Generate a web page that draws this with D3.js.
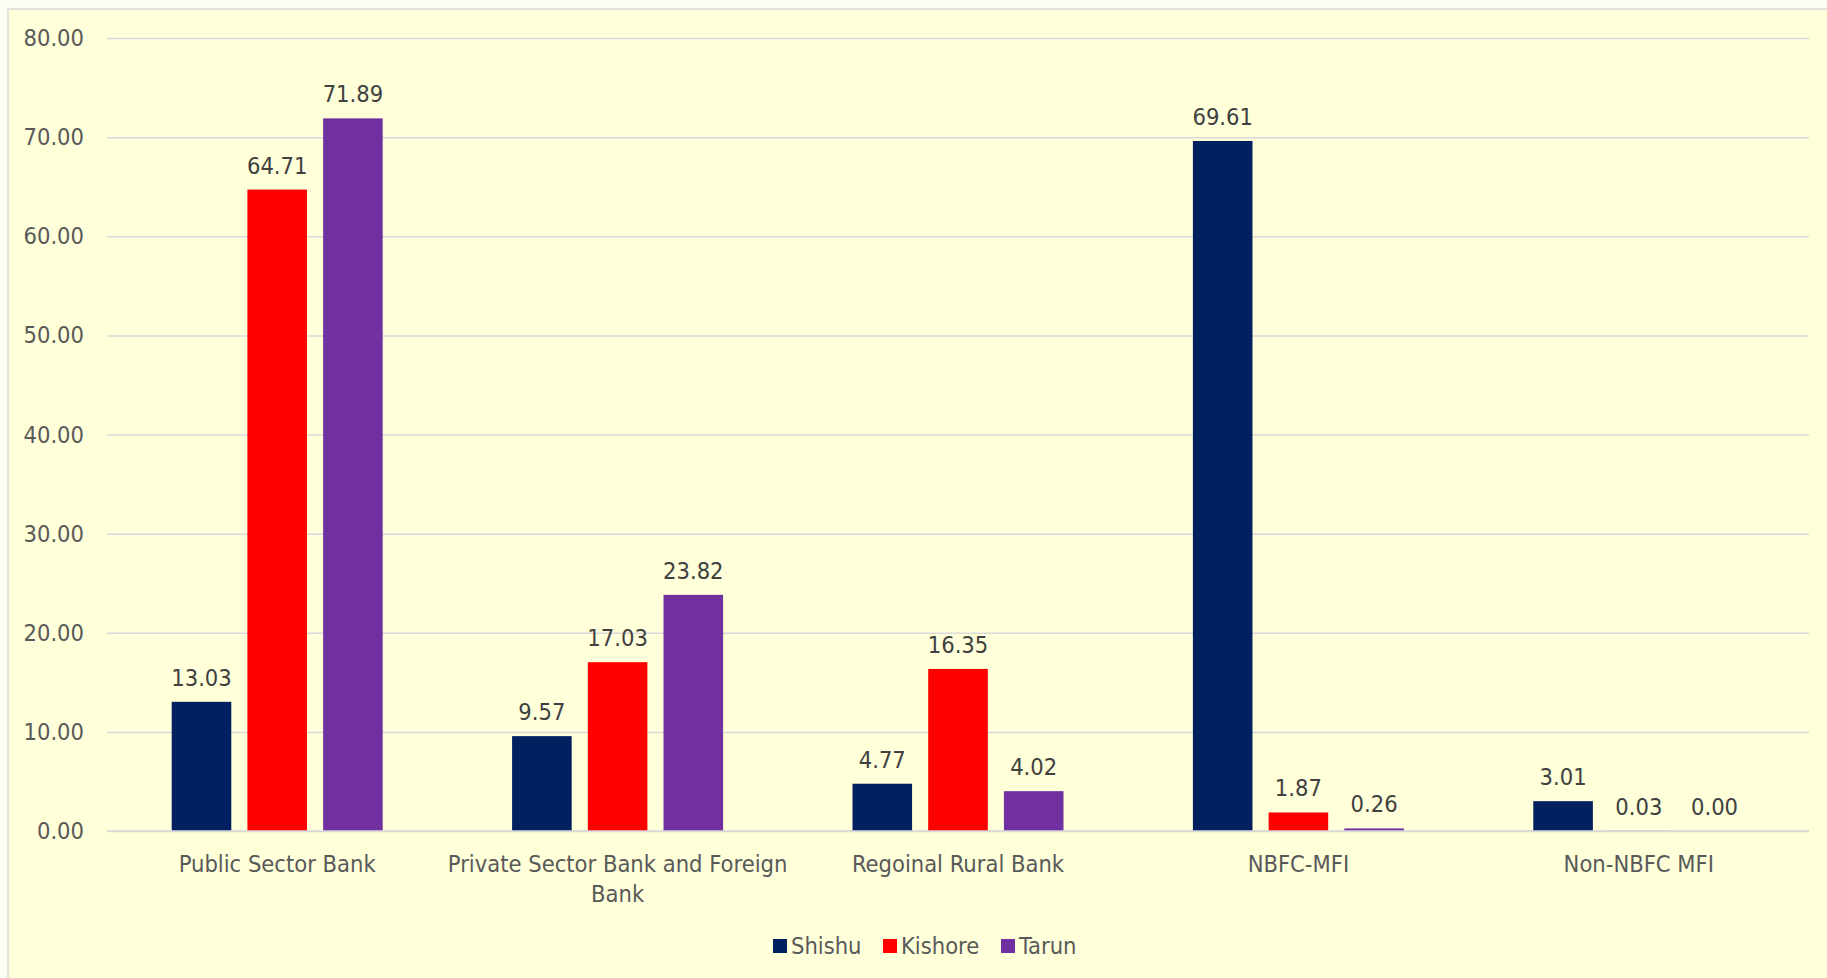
<!DOCTYPE html>
<html>
<head>
<meta charset="utf-8">
<script src="https://cdn.jsdelivr.net/npm/d3@7"></script>
<style>
    body { margin: 0; background: #fdfdf3; }
    svg { display: block; }
    text { font-family: "DejaVu Sans Condensed", "DejaVu Sans", sans-serif; font-stretch: condensed; }
</style>
</head>
<body>
<div id="chart"></div>
<script>
var categories = ["Public Sector Bank", "Private Sector Bank and Foreign Bank", "Regoinal Rural Bank", "NBFC-MFI", "Non-NBFC MFI"];
var seriesNames = ["Shishu", "Kishore", "Tarun"];
var shishu = [13.03, 9.57, 4.77, 69.61, 3.01];
var kishore = [64.71, 17.03, 16.35, 1.87, 0.03];
var tarun = [71.89, 23.82, 4.02, 0.26, 0.00];
var yTicks = [0, 10, 20, 30, 40, 50, 60, 70, 80];

var colors = { "Shishu": "#002060", "Kishore": "#ff0000", "Tarun": "#7030a0" };
var values = { "Shishu": shishu, "Kishore": kishore, "Tarun": tarun };
var fontSize = "23.5px";

var width = 1827, height = 978;
var margin = { top: 38, right: 18, bottom: 147, left: 107 };
var plotW = width - margin.left - margin.right,
    plotH = height - margin.top - margin.bottom;

var svg = d3.select("#chart").append("svg")
    .attr("width", width)
    .attr("height", height);

// chart area
svg.append("rect")
    .attr("x", 8).attr("y", 9)
    .attr("width", width + 10).attr("height", height + 10)
    .attr("fill", "#ffffda")
    .attr("stroke", "#d9d9d9")
    .attr("stroke-width", 1.5);

var g = svg.append("g")
    .attr("transform", "translate(" + margin.left + "," + margin.top + ")");

var x0 = d3.scaleBand()
    .domain(categories)
    .range([0, plotW]);

var groupW = 211;
var x1 = d3.scaleBand()
    .domain(seriesNames)
    .range([0, groupW])
    .paddingInner(0.213);

var y = d3.scaleLinear()
    .domain([0, 80])
    .range([plotH, 0]);

// gridlines + y labels
var yAxis = d3.axisLeft(y)
    .tickValues(yTicks)
    .tickFormat(d3.format(".2f"))
    .tickSize(-plotW)
    .tickPadding(23);

var yG = g.append("g").attr("class", "y axis").call(yAxis);
yG.select(".domain").remove();
yG.selectAll(".tick line")
    .attr("stroke", "#d9d9d9")
    .attr("stroke-width", 1.5);
yG.selectAll(".tick text")
    .attr("fill", "#595959")
    .style("font-size", fontSize);

// bars
var groups = g.selectAll(".group")
    .data(categories)
    .enter().append("g")
    .attr("class", "group")
    .attr("transform", function (d) {
        return "translate(" + (x0(d) + (x0.bandwidth() - groupW) / 2) + ",0)";
    });

groups.selectAll("rect")
    .data(function (d, i) {
        return seriesNames.map(function (s) { return { key: s, value: values[s][i] }; });
    })
    .enter().append("rect")
    .attr("x", function (d) { return x1(d.key); })
    .attr("y", function (d) { return y(d.value); })
    .attr("width", x1.bandwidth())
    .attr("height", function (d) { return plotH - y(d.value); })
    .attr("fill", function (d) { return colors[d.key]; });

groups.selectAll("text.value")
    .data(function (d, i) {
        return seriesNames.map(function (s) { return { key: s, value: values[s][i] }; });
    })
    .enter().append("text")
    .attr("class", "value")
    .attr("x", function (d) { return x1(d.key) + x1.bandwidth() / 2; })
    .attr("y", function (d) { return y(d.value) - 16; })
    .attr("text-anchor", "middle")
    .attr("fill", "#404040")
    .style("font-size", fontSize)
    .text(function (d) { return d3.format(".2f")(d.value); });

// baseline
g.append("line")
    .attr("x1", 0).attr("x2", plotW)
    .attr("y1", y(0)).attr("y2", y(0))
    .attr("stroke", "#d9d9d9")
    .attr("stroke-width", 1.5);

// category labels (wrapped like excel)
var catLines = {
    "Private Sector Bank and Foreign Bank": ["Private Sector Bank and Foreign", "Bank"]
};
g.selectAll("text.cat")
    .data(categories)
    .enter().append("text")
    .attr("class", "cat")
    .attr("text-anchor", "middle")
    .attr("fill", "#595959")
    .style("font-size", fontSize)
    .each(function (d) {
        var lines = catLines[d] || [d];
        var t = d3.select(this);
        lines.forEach(function (l, i) {
            t.append("tspan")
                .attr("x", x0(d) + x0.bandwidth() / 2)
                .attr("y", plotH + 41 + i * 30)
                .text(l);
        });
    });

// legend
var legendX = [773, 883, 1001];
var legend = svg.append("g").attr("class", "legend");
seriesNames.forEach(function (s, i) {
    legend.append("rect")
        .attr("x", legendX[i]).attr("y", 939)
        .attr("width", 14).attr("height", 14)
        .attr("fill", colors[s]);
    legend.append("text")
        .attr("x", legendX[i] + 18).attr("y", 954)
        .attr("fill", "#595959")
        .style("font-size", fontSize)
        .text(s);
});
</script>
</body>
</html>
